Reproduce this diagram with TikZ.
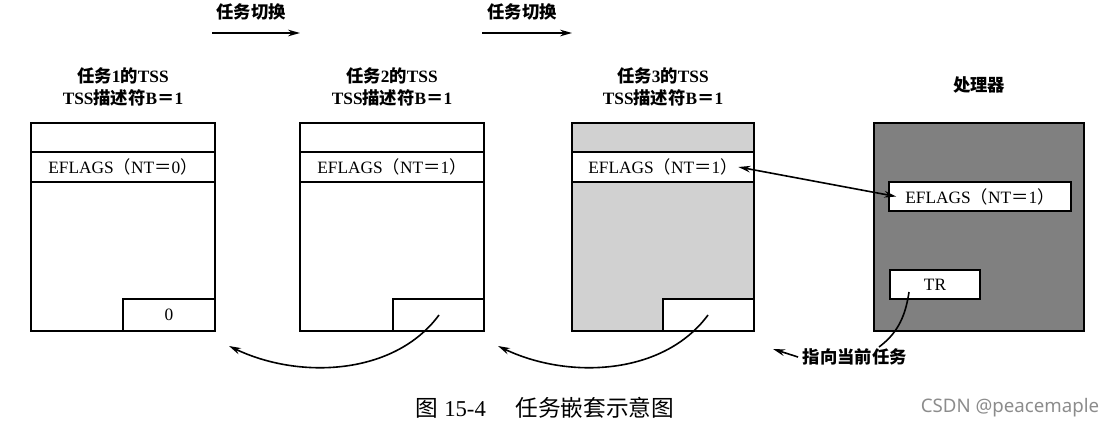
\documentclass[tikz,border=0pt]{standalone}
\usepackage{fontspec}
\setmainfont{Liberation Serif}
\setsansfont{Noto Sans}
\newfontfamily\cjk{Noto Sans CJK SC}
\newcommand{\zh}[1]{{\cjk #1}}
\newcommand{\efl}[1]{EFLAGS\zh{（}NT\zh{＝}#1\zh{）}}
\usetikzlibrary{arrows.meta}

\begin{document}
\begin{tikzpicture}[x=0.75pt,y=-0.75pt,line width=1.2pt,
  campo/.style = {draw,fill=white,inner sep=0pt},
  rotulo/.style = {inner sep=0pt,font=\fontsize{13}{16}\selectfont},
  titulo/.style = {align=center,inner sep=0pt,font=\fontsize{13}{17}\selectfont\bfseries},
  seta/.style = {-{Stealth[length=9pt,width=5pt]}}]
\useasboundingbox (0,0) rectangle (1117,428);

\node[campo,minimum width=138pt,minimum height=156pt] (T1) at (123,227) {};
\node[campo,minimum width=138pt,minimum height=156pt] (T2) at (392,227) {};
\node[campo,fill=black!18,minimum width=136.5pt,minimum height=156pt] (T3) at (663,227) {};
\node[campo,fill=black!50,minimum width=157.5pt,minimum height=156pt] (CPU) at (979,227) {};

\node[campo,minimum width=138pt,minimum height=22.5pt] (R1) at (123,167) {};
\node[campo,minimum width=138pt,minimum height=22.5pt] (R2) at (392,167) {};
\node[campo,minimum width=136.5pt,minimum height=22.5pt] (R3) at (663,167) {};
\node[rotulo] (E1) at (123,167) {\efl{0}};
\node[rotulo] (E2) at (392,167) {\efl{1}};
\node[rotulo] (E3) at (663,167) {\efl{1}};

\node[campo,rotulo,minimum width=69pt,minimum height=24pt] (P1) at (169,315) {0};
\node[campo,minimum width=68.25pt,minimum height=24pt] (P2) at (438.5,315) {};
\node[campo,minimum width=68.25pt,minimum height=24pt] (P3) at (708.5,315) {};

\node[campo,rotulo,minimum width=136.5pt,minimum height=21.75pt] (PE) at (980,196.5) {\efl{1}};
\node[campo,rotulo,minimum width=67.5pt,minimum height=21.75pt] (TR) at (935,284.5) {TR};

\node[titulo] (N1) at (123,87) {\zh{任务}1\zh{的}TSS\\TSS\zh{描述符}B\zh{＝}1};
\node[titulo] (N2) at (392,87) {\zh{任务}2\zh{的}TSS\\TSS\zh{描述符}B\zh{＝}1};
\node[titulo] (N3) at (663,87) {\zh{任务}3\zh{的}TSS\\TSS\zh{描述符}B\zh{＝}1};
\node[titulo] (N4) at (979,85) {\zh{处理器}};

\node[titulo] (S1) at (251,12) {\zh{任务切换}};
\node[titulo] (S2) at (522,12) {\zh{任务切换}};
\coordinate (S1a) at (212,33);
\coordinate (S1b) at (300,33);
\coordinate (S2a) at (482,33);
\coordinate (S2b) at (572,33);
\draw[seta] (S1a) -- (S1b);
\draw[seta] (S2a) -- (S2b);

\draw[{Stealth[length=9pt,width=5pt]}-{Stealth[length=9pt,width=5pt]}] (E3.east) -- ([xshift=6pt]PE.west);

\coordinate (C2) at (439,315);
\coordinate (F1) at (229,346);
\coordinate (C3) at (708,315);
\coordinate (F2) at (498,346);
\draw[seta] (C2) .. controls (395,375) and (300,380) .. (F1);
\draw[seta] (C3) .. controls (664,375) and (569,380) .. (F2);

\coordinate (TRa) at (909,292);
\coordinate (TRb) at (879,347);
\draw (TRa) .. controls (905,320) and (895,335) .. (TRb);

\node[titulo,anchor=west] (PTR) at (802,357) {\zh{指向当前任务}};
\coordinate (PTRa) at (773,349);
\draw[seta] ([xshift=-3pt]PTR.west) -- (PTRa);

\node[font=\fontsize{17}{20}\selectfont] (CAP) at (545,408) {\zh{图} 15-4\hspace{1.3em}\zh{任务嵌套示意图}};
\node[font=\sffamily\fontsize{14}{17}\selectfont,text=black!45] (WM) at (1010,408) {CSDN @peacemaple};
\end{tikzpicture}
\end{document}
